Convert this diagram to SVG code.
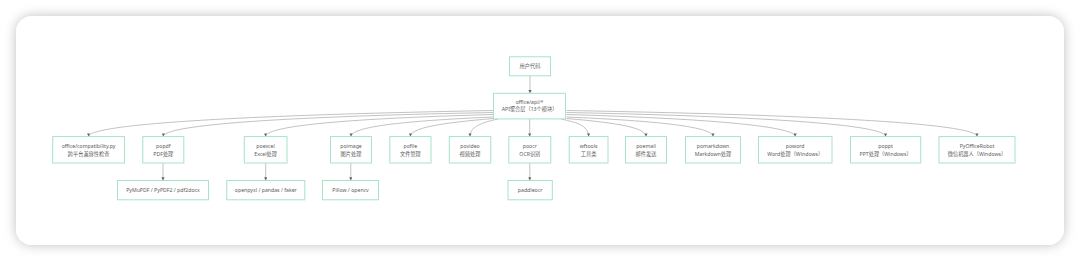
<svg xmlns="http://www.w3.org/2000/svg" width="1080" height="261" viewBox="0 0 1080 261">
<defs>
<filter id="sh" x="-5%" y="-20%" width="110%" height="140%">
<feDropShadow dx="0" dy="0" stdDeviation="6" flood-color="#000" flood-opacity="0.25"/>
</filter>
<marker id="ah" viewBox="0 0 10 10" refX="10" refY="5" markerWidth="3.2" markerHeight="3.2" markerUnits="userSpaceOnUse" orient="auto">
<path d="M0,0 L10,5 L0,10 z" fill="#666"/>
</marker>
<style>
.n rect{fill:#fff;stroke:#a6e3c8;stroke-width:1}
.n text{font-family:"Noto Sans","Noto Sans CJK SC",sans-serif;font-size:5.2px;fill:#5c5c5c;text-anchor:middle}
#edges path{fill:none;stroke:#a8a8a8;stroke-width:0.7;marker-end:url(#ah)}
</style>
</defs>
<rect width="1080" height="261" fill="#fff"/>
<rect x="16" y="16" width="1048" height="229" rx="16" fill="#fff" filter="url(#sh)"/>

<g id="edges">
<path d="M530,75.8 L530,93.3"/>
<path d="M493.5,110.5 C220,115.5 88.6,125 88.6,136.6"/>
<path d="M493.5,112.5 C260,117 163.3,126 163.3,136.6"/>
<path d="M493.5,114.5 C330,119 265.6,127 265.6,136.6"/>
<path d="M493.5,117 C400,121 351,127 351,136.6"/>
<path d="M493.5,118.5 C440,123 410.4,128 410.4,136.6"/>
<path d="M498,119 C480,123 470,127 470,136.6"/>
<path d="M529.7,119 L529.7,136.6"/>
<path d="M561,119 C580,123 588.6,127 588.6,136.6"/>
<path d="M566.5,118.5 C620,123 646,128 646,136.6"/>
<path d="M566.5,117 C660,121 713,127 713,136.6"/>
<path d="M566.5,114.5 C720,119 795.2,127 795.2,136.6"/>
<path d="M566.5,112.5 C790,117 885.6,126 885.6,136.6"/>
<path d="M566.5,110.5 C850,115.5 977,125 977,136.6"/>
<path d="M163,163 L163,180.5"/>
<path d="M265.7,163 L265.7,180.5"/>
<path d="M350.8,163 L350.8,180.5"/>
<path d="M529.8,163 L529.8,180.5"/>
</g>

<g id="user" class="n"><rect x="509.5" y="56.8" width="41" height="19"/><text x="530" y="68.2">用户代码</text></g>
<g id="api" class="n"><rect x="493.5" y="93.3" width="72" height="25.6"/><text x="529.5" y="104.4">office/api/*</text><text x="529.5" y="111.3">API聚合层（13个模块）</text></g>

<g id="compat" class="n"><rect x="52.7" y="136.6" width="71.8" height="26.4"/><text x="88.6" y="147.6">office/compatibility.py</text><text x="88.6" y="155.6">跨平台兼容性检查</text></g>
<g id="popdf" class="n"><rect x="142.8" y="136.6" width="41" height="26.4"/><text x="163.3" y="147.6">popdf</text><text x="163.3" y="155.6">PDF处理</text></g>
<g id="poexcel" class="n"><rect x="244.3" y="136.6" width="42.7" height="26.4"/><text x="265.6" y="147.6">poexcel</text><text x="265.6" y="155.6">Excel处理</text></g>
<g id="poimage" class="n"><rect x="330.5" y="136.6" width="41" height="26.4"/><text x="351" y="147.6">poimage</text><text x="351" y="155.6">图片处理</text></g>
<g id="pofile" class="n"><rect x="389.8" y="136.6" width="41.2" height="26.4"/><text x="410.4" y="147.6">pofile</text><text x="410.4" y="155.6">文件管理</text></g>
<g id="povideo" class="n"><rect x="449.3" y="136.6" width="41.5" height="26.4"/><text x="470" y="147.6">povideo</text><text x="470" y="155.6">视频处理</text></g>
<g id="poocr" class="n"><rect x="508.8" y="136.6" width="42" height="26.4"/><text x="529.8" y="147.6">poocr</text><text x="529.8" y="155.6">OCR识别</text></g>
<g id="wftools" class="n"><rect x="569.2" y="136.6" width="38.8" height="26.4"/><text x="588.6" y="147.6">wftools</text><text x="588.6" y="155.6">工具类</text></g>
<g id="poemail" class="n"><rect x="625.5" y="136.6" width="41" height="26.4"/><text x="646" y="147.6">poemail</text><text x="646" y="155.6">邮件发送</text></g>
<g id="pomarkdown" class="n"><rect x="685.5" y="136.6" width="55" height="26.4"/><text x="713" y="147.6">pomarkdown</text><text x="713" y="155.6">Markdown处理</text></g>
<g id="poword" class="n"><rect x="758.5" y="136.6" width="73.5" height="26.4"/><text x="795.2" y="147.6">poword</text><text x="795.2" y="155.6">Word处理（Windows）</text></g>
<g id="poppt" class="n"><rect x="850.5" y="136.6" width="70.2" height="26.4"/><text x="885.6" y="147.6">poppt</text><text x="885.6" y="155.6">PPT处理（Windows）</text></g>
<g id="pyofficerobot" class="n"><rect x="939" y="136.6" width="76" height="26.4"/><text x="977" y="147.6">PyOfficeRobot</text><text x="977" y="155.6">微信机器人（Windows）</text></g>

<g id="pdflibs" class="n"><rect x="117.5" y="180.5" width="91" height="19.3"/><text x="163" y="192">PyMuPDF / PyPDF2 / pdf2docx</text></g>
<g id="excellibs" class="n"><rect x="226.8" y="180.5" width="78" height="19.3"/><text x="265.8" y="192">openpyxl / pandas / faker</text></g>
<g id="imagelibs" class="n"><rect x="322.5" y="180.5" width="56" height="19.3"/><text x="350.5" y="192">Pillow / opencv</text></g>
<g id="ocrlibs" class="n"><rect x="508" y="180.5" width="44.3" height="19.3"/><text x="530.1" y="192">paddleocr</text></g>
</svg>
